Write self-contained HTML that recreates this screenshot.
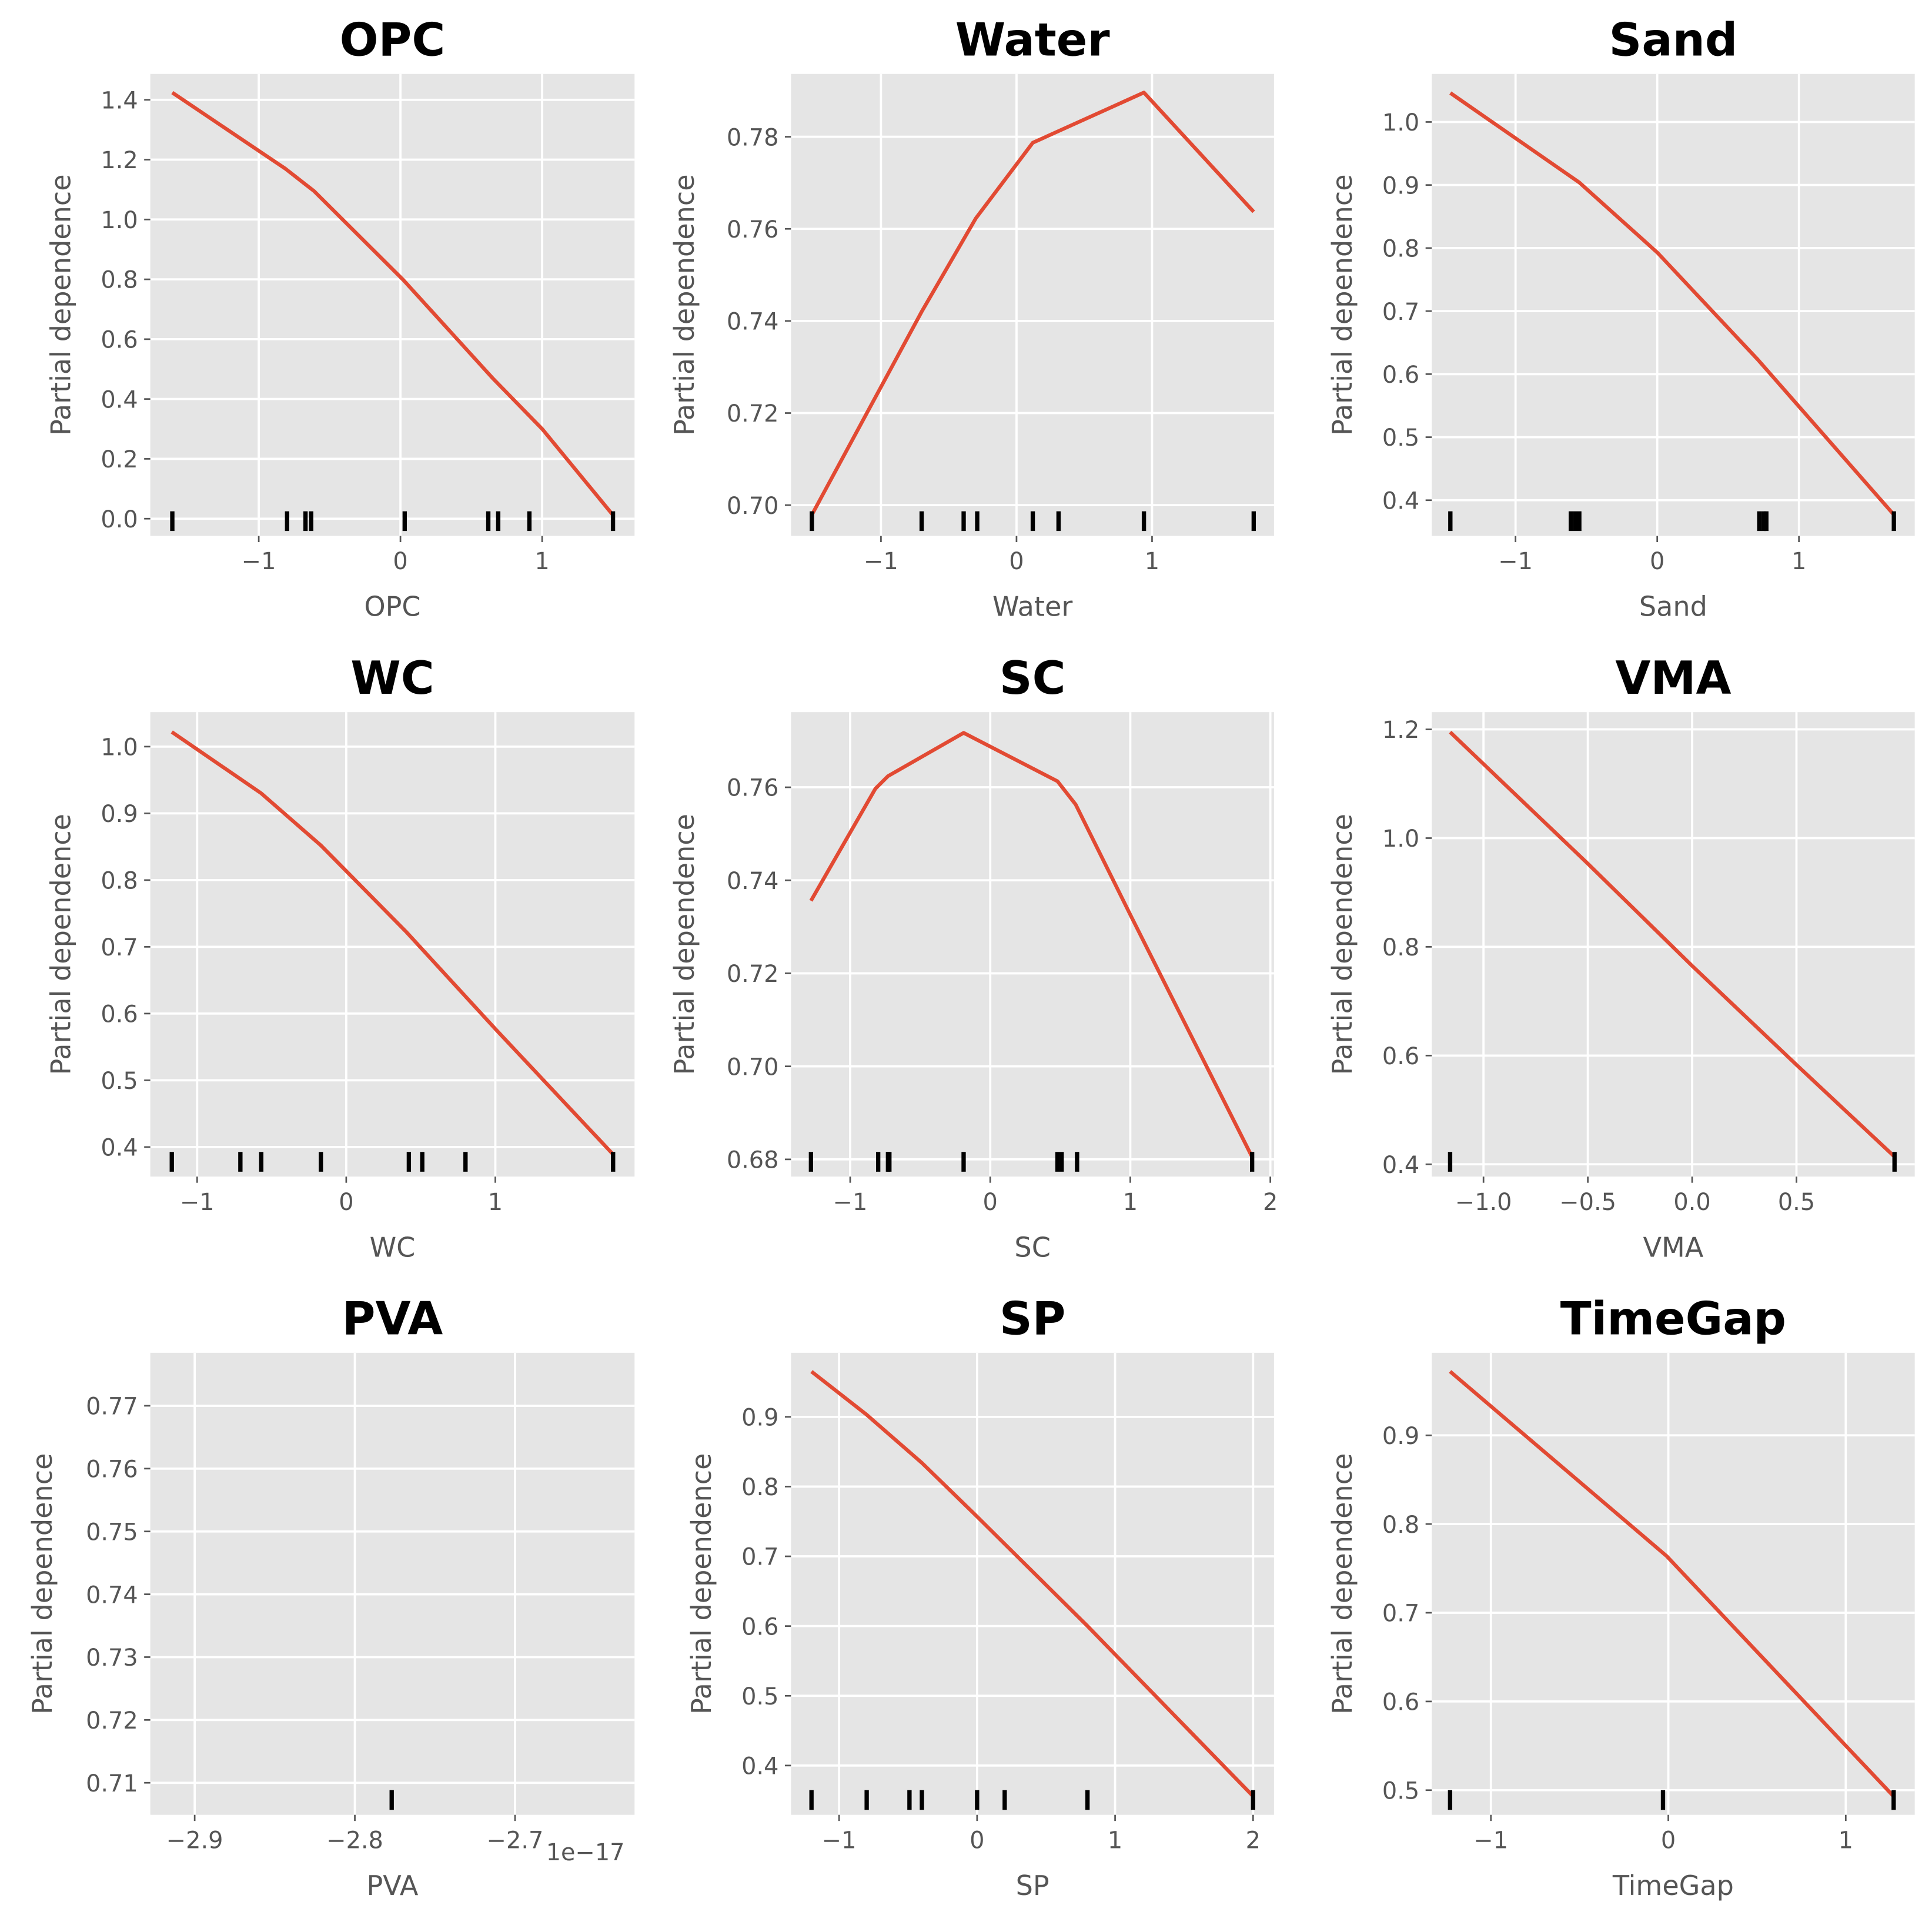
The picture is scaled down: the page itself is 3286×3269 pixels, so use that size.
<!DOCTYPE html>
<html><head><meta charset="utf-8"><style>
html,body{margin:0;padding:0;background:#fff}
svg{display:block}
text{font-family:"DejaVu Sans","Liberation Sans",sans-serif}
</style></head><body>
<svg id="chart" width="3286" height="3269" viewBox="0 0 1568 1560" preserveAspectRatio="none" xmlns="http://www.w3.org/2000/svg"></svg>
<script>
// ---- data arrays ----
const featureNames = ["OPC","Water","Sand","WC","SC","VMA","PVA","SP","TimeGap"];
const opcX = [-1.61,-0.81,-0.61,0.02,0.65,1.0,1.5];
const opcY = [1.424,1.169,1.095,0.798,0.47,0.30,0.012];
const opcRug = [-1.61,-0.8,-0.67,-0.63,0.03,0.62,0.69,0.91,1.5];
const waterX = [-1.51,-0.7,-0.3,0.12,0.94,1.75];
const waterY = [0.6979,0.742,0.7623,0.7787,0.7896,0.7637];
const waterRug = [-1.51,-0.7,-0.39,-0.29,0.12,0.31,0.94,1.75];
const sandX = [-1.46,-0.55,0,0.71,1.67];
const sandY = [1.046,0.904,0.793,0.623,0.377];
const sandRug = [-1.46,-0.61,-0.58,-0.55,0.72,0.75,0.77,1.67];
const wcX = [-1.17,-0.57,-0.17,0.4,1.0,1.79];
const wcY = [1.022,0.930,0.852,0.723,0.577,0.389];
const wcRug = [-1.17,-0.71,-0.57,-0.17,0.42,0.51,0.80,1.79];
const scX = [-1.28,-0.82,-0.73,-0.19,0.48,0.61,1.01,1.87];
const scY = [0.7356,0.7597,0.7624,0.7717,0.7613,0.7563,0.732,0.6805];
const scRug = [-1.28,-0.8,-0.73,-0.72,-0.19,0.48,0.51,0.62,1.87];
const vmaX = [-1.16,-0.5,0,0.5,0.97];
const vmaY = [1.195,0.953,0.765,0.583,0.414];
const vmaRug = [-1.16,0.97];
const pvaX = [];
const pvaY = [];
const pvaRug = [-2.777];
const spX = [-1.2,-0.8,-0.4,0,0.8,2.0];
const spY = [0.965,0.903,0.834,0.757,0.600,0.356];
const spRug = [-1.2,-0.8,-0.49,-0.4,0,0.2,0.8,2.0];
const tgX = [-1.23,-0.01,1.27];
const tgY = [0.972,0.764,0.493];
const tgRug = [-1.23,-0.03,1.27];
const opcXTicks=[-1,0,1], opcYTicks=[0,0.2,0.4,0.6,0.8,1.0,1.2,1.4];
const waterXTicks=[-1,0,1], waterYTicks=[0.70,0.72,0.74,0.76,0.78];
const sandXTicks=[-1,0,1], sandYTicks=[0.4,0.5,0.6,0.7,0.8,0.9,1.0];
const wcXTicks=[-1,0,1], wcYTicks=[0.4,0.5,0.6,0.7,0.8,0.9,1.0];
const scXTicks=[-1,0,1,2], scYTicks=[0.68,0.70,0.72,0.74,0.76];
const vmaXTicks=[-1.0,-0.5,0.0,0.5], vmaYTicks=[0.4,0.6,0.8,1.0,1.2];
const pvaXTicks=[-2.9,-2.8,-2.7], pvaYTicks=[0.71,0.72,0.73,0.74,0.75,0.76,0.77];
const spXTicks=[-1,0,1,2], spYTicks=[0.4,0.5,0.6,0.7,0.8,0.9];
const tgXTicks=[-1,0,1], tgYTicks=[0.5,0.6,0.7,0.8,0.9];

// ---- layout (pixel anchors for scales) ----
const panels = [
 {x0:122,x1:515,y0:60,y1:435, xa:[-1,210],xb:[1,440], ya:[0,421],yb:[1.4,81], X:opcX,Y:opcY,R:opcRug,XT:opcXTicks,YT:opcYTicks,xd:0,yd:1,ylx:57},
 {x0:642,x1:1034,y0:60,y1:435, xa:[-1,715],xb:[1,935], ya:[0.70,410],yb:[0.78,111], X:waterX,Y:waterY,R:waterRug,XT:waterXTicks,YT:waterYTicks,xd:0,yd:2,ylx:563},
 {x0:1162,x1:1554,y0:60,y1:435, xa:[-1,1230],xb:[1,1460], ya:[0.4,406],yb:[1.0,99], X:sandX,Y:sandY,R:sandRug,XT:sandXTicks,YT:sandYTicks,xd:0,yd:1,ylx:1097},
 {x0:122,x1:515,y0:578,y1:955, xa:[-1,160],xb:[1,402], ya:[0.4,931],yb:[1.0,606], X:wcX,Y:wcY,R:wcRug,XT:wcXTicks,YT:wcYTicks,xd:0,yd:1,ylx:57},
 {x0:642,x1:1034,y0:578,y1:955, xa:[-1,690],xb:[2,1031], ya:[0.68,941],yb:[0.76,639], X:scX,Y:scY,R:scRug,XT:scXTicks,YT:scYTicks,xd:0,yd:2,ylx:563},
 {x0:1162,x1:1554,y0:578,y1:955, xa:[-1,1204],xb:[0.5,1458], ya:[0.4,945],yb:[1.2,592], X:vmaX,Y:vmaY,R:vmaRug,XT:vmaXTicks,YT:vmaYTicks,xd:1,yd:1,ylx:1097},
 {x0:122,x1:515,y0:1098,y1:1473, xa:[-2.9,158],xb:[-2.7,418], ya:[0.71,1447],yb:[0.77,1141], X:pvaX,Y:pvaY,R:pvaRug,XT:pvaXTicks,YT:pvaYTicks,xd:1,yd:2,ylx:42},
 {x0:642,x1:1034,y0:1098,y1:1473, xa:[-1,681],xb:[2,1017], ya:[0.4,1433],yb:[0.9,1150], X:spX,Y:spY,R:spRug,XT:spXTicks,YT:spYTicks,xd:0,yd:1,ylx:577},
 {x0:1162,x1:1554,y0:1098,y1:1473, xa:[-1,1210],xb:[1,1498], ya:[0.5,1453],yb:[0.9,1165], X:tgX,Y:tgY,R:tgRug,XT:tgXTicks,YT:tgYTicks,xd:0,yd:1,ylx:1097}
];
const svg = document.getElementById('chart');
const NS = "http://www.w3.org/2000/svg";
function mk(tag, attrs, parent){const e=document.createElementNS(NS,tag);for(const k in attrs)e.setAttribute(k,attrs[k]);parent.appendChild(e);return e;}
function fmt(v,d){return (v<0?"\u2212":"")+Math.abs(v).toFixed(d);}
panels.forEach((p,i)=>{
  const name = featureNames[i].toLowerCase();
  const g = mk('g',{},svg);
  
  
  const sx = v => p.xa[1] + (v-p.xa[0])*(p.xb[1]-p.xa[1])/(p.xb[0]-p.xa[0]);
  const sy = v => p.ya[1] + (v-p.ya[0])*(p.yb[1]-p.ya[1])/(p.yb[0]-p.ya[0]);
  const bg = mk('rect',{x:p.x0,y:p.y0,width:p.x1-p.x0,height:p.y1-p.y0,fill:'#e5e5e5'},g);
  
  
  p.XT.forEach(t=>{
    const x=sx(t);
    mk('line',{x1:x,x2:x,y1:p.y0,y2:p.y1,stroke:'#fff','stroke-width':1.8},g);
    mk('line',{x1:x,x2:x,y1:p.y1,y2:p.y1+5,stroke:'#555','stroke-width':1.3},g);
    const tl = mk('text',{x:x,y:p.y1+27,'font-size':19,fill:'#555','text-anchor':'middle'},g);
    tl.textContent = fmt(t,p.xd);
    
    
  });
  p.YT.forEach(t=>{
    const y=sy(t);
    mk('line',{x1:p.x0,x2:p.x1,y1:y,y2:y,stroke:'#fff','stroke-width':1.8},g);
    mk('line',{x1:p.x0-5,x2:p.x0,y1:y,y2:y,stroke:'#555','stroke-width':1.3},g);
    const tl = mk('text',{x:p.x0-10,y:y+7,'font-size':19,fill:'#555','text-anchor':'end'},g);
    tl.textContent = fmt(t,p.yd);
    
    
  });
  if(p.X.length){
    const pl = mk('polyline',{points:p.X.map((v,k)=>sx(v)+','+sy(p.Y[k])).join(' '),fill:'none',stroke:'#e24a33','stroke-width':3,'stroke-linejoin':'round'},g);
    
    
  }
  p.R.forEach(v=>{
    const r = mk('line',{x1:sx(v),x2:sx(v),y1:p.y1-20,y2:p.y1-4,stroke:'#000','stroke-width':3.5},g);
    
    
  });
  const cx=(p.x0+p.x1)/2;
  const title = mk('text',{x:cx,y:p.y0-15,'font-size':37,'font-weight':'bold',fill:'#000','text-anchor':'middle'},g);
  title.textContent = featureNames[i];
  
  
  const xl = mk('text',{x:cx,y:p.y1+65,'font-size':22,fill:'#555','text-anchor':'middle'},g);
  xl.textContent = featureNames[i];
  
  
  const cy=(p.y0+p.y1)/2;
  const yl = mk('text',{x:p.ylx,y:cy,'font-size':22,fill:'#555','text-anchor':'middle',transform:`rotate(-90 ${p.ylx} ${cy})`},g);
  yl.textContent = 'Partial dependence';
  
  
  if(i===6){
    const off = mk('text',{x:p.x1-8,y:p.y1+37,'font-size':19,fill:'#555','text-anchor':'end'},g);
    off.textContent = '1e\u221217';
    
    
  }
});
</script>
</body></html>
